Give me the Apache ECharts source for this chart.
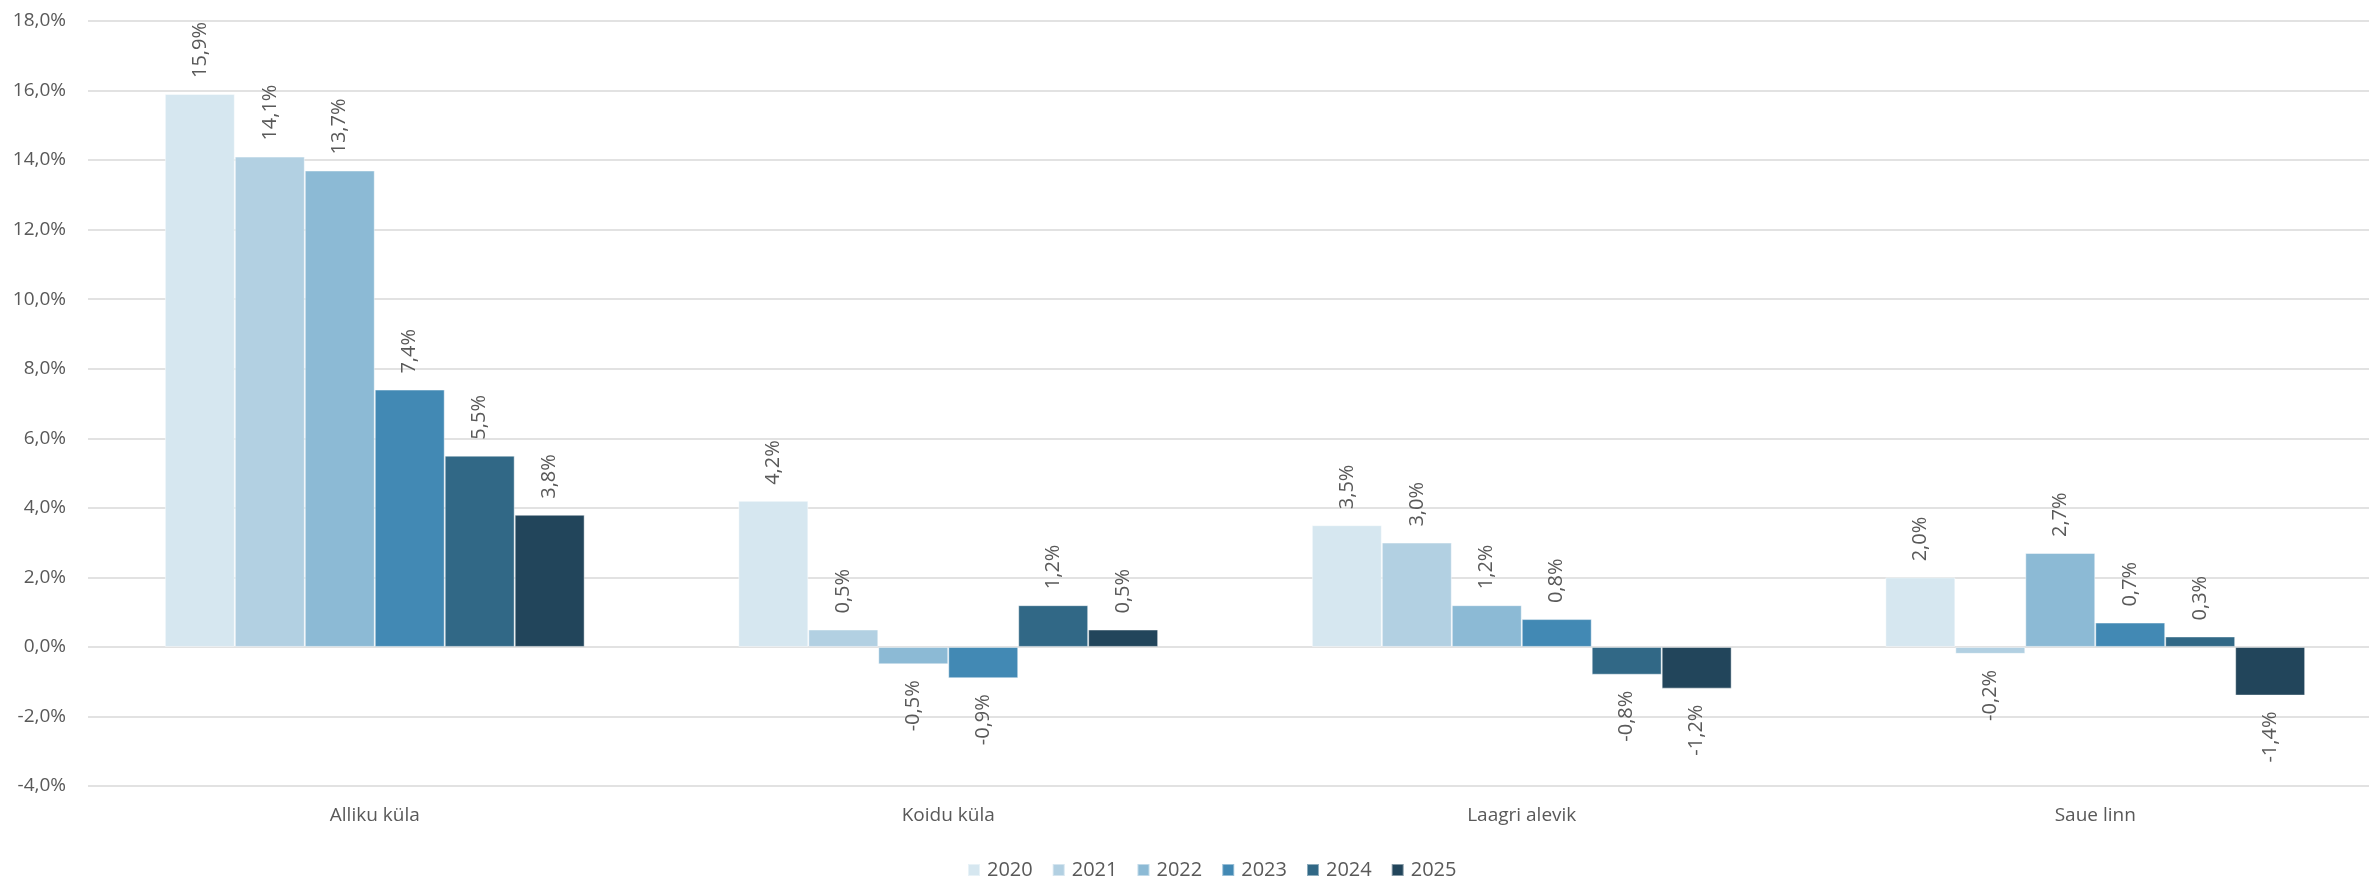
<!DOCTYPE html>
<html>
<head>
<meta charset="utf-8">
<script src="https://cdn.jsdelivr.net/npm/echarts@6/dist/echarts.min.js"></script>
<style>
html,body{margin:0;padding:0;background:#fff;overflow:hidden;width:2369px;height:878px;}
#chart{width:2382px;height:878px;}
</style>
</head>
<body>
<div id="chart"></div>
<script>
const categories = ['Alliku küla', 'Koidu küla', 'Laagri alevik', 'Saue linn'];
const years = ['2020', '2021', '2022', '2023', '2024', '2025'];
const values2020 = [15.9, 4.2, 3.5, 2.0];
const values2021 = [14.1, 0.5, 3.0, -0.2];
const values2022 = [13.7, -0.5, 1.2, 2.7];
const values2023 = [7.4, -0.9, 0.8, 0.7];
const values2024 = [5.5, 1.2, -0.8, 0.3];
const values2025 = [3.8, 0.5, -1.2, -1.4];
const colors = ['#D6E7F0', '#B2D0E2', '#8CBAD5', '#4289B4', '#316886', '#22455B'];

const allValues = [values2020, values2021, values2022, values2023, values2024, values2025];
const fmt = v => v.toFixed(1).replace('.', ',') + '%';
const FONT = '"Open Sans", sans-serif';
const TXT = '#595959';

const series = years.map((y, i) => ({
  name: y,
  type: 'bar',
  barGap: 0,
  barCategoryGap: '26.8%',
  itemStyle: { color: colors[i], borderColor: 'rgba(255,255,255,0.45)', borderWidth: 1 },
  data: allValues[i].map(v => ({
    value: v,
    label: v >= 0
      ? { show: true, position: 'top', rotate: 90, align: 'left', verticalAlign: 'middle', distance: 16 }
      : { show: true, position: 'bottom', rotate: 90, align: 'right', verticalAlign: 'middle', distance: 16 }
  })),
  label: {
    show: true,
    fontFamily: FONT,
    fontSize: 20,
    color: TXT,
    formatter: p => fmt(p.value)
  }
}));

const chart = echarts.init(document.getElementById('chart'), null, { renderer: 'canvas' });
chart.setOption({
  animation: false,
  backgroundColor: '#fff',
  color: colors,
  grid: { left: 88, right: 0, top: 21, bottom: 92, containLabel: false },
  legend: {
    data: years,
    left: 962,
    top: 855,
    itemWidth: 12,
    itemHeight: 12,
    itemGap: 19,
    icon: 'rect',
    textStyle: { fontFamily: FONT, fontSize: 20, color: TXT, padding: [0, 0, 0, 2] }
  },
  xAxis: {
    type: 'category',
    data: categories,
    position: 'bottom',
    axisLine: { show: false, onZero: false },
    axisTick: { show: false },
    axisLabel: { fontFamily: FONT, fontSize: 19, color: TXT, margin: 20 }
  },
  yAxis: {
    type: 'value',
    min: -4,
    max: 18,
    interval: 2,
    axisLine: { show: false },
    axisTick: { show: false },
    splitLine: { lineStyle: { color: '#d9d9d9', width: 1.5 } },
    axisLabel: { fontFamily: FONT, fontSize: 19, color: TXT, margin: 22, formatter: v => fmt(v) }
  },
  series: series
});
</script>
</body>
</html>
